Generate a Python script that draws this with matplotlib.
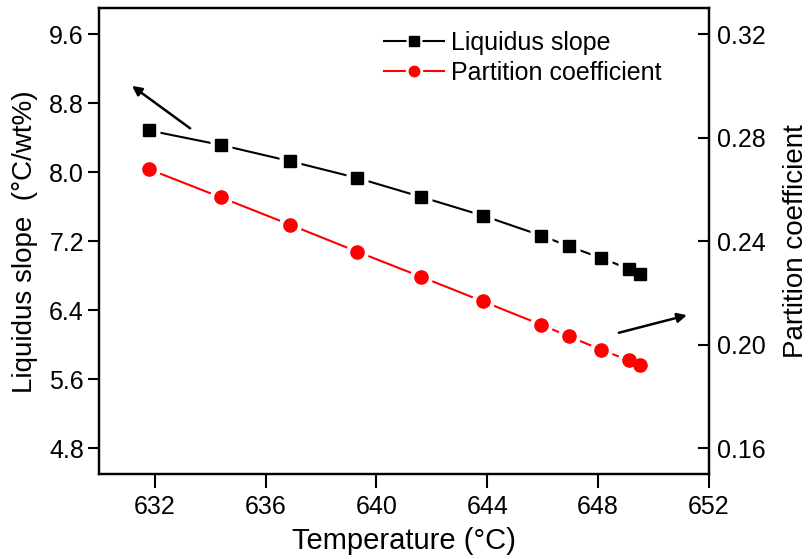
import matplotlib
matplotlib.use("Agg")
import matplotlib.pyplot as plt
from matplotlib.legend_handler import HandlerTuple

plt.rcParams['font.family'] = ['Liberation Sans', 'DejaVu Sans']

temperature = [631.8, 634.4, 636.9, 639.3, 641.6, 643.85, 645.95, 646.95, 648.1, 649.1, 649.5]
liquidus_slope = [8.484, 8.315, 8.127, 7.934, 7.715, 7.496, 7.265, 7.141, 7.005, 6.881, 6.824]
partition_coef = [0.2678, 0.2569, 0.2463, 0.2360, 0.2263, 0.2167, 0.2077, 0.2032, 0.1981, 0.1940, 0.1922]

x_ticks = [632, 636, 640, 644, 648, 652]
left_ticks = [4.8, 5.6, 6.4, 7.2, 8.0, 8.8, 9.6]
right_ticks = [0.16, 0.20, 0.24, 0.28, 0.32]

fig = plt.figure(figsize=(8.11, 5.59), dpi=100)
ax = fig.add_axes([0.1224, 0.152, 0.8742 - 0.1224, 0.985 - 0.152])
ax2 = ax.twinx()

ax.set_xlim(630, 652)
ax.set_ylim(4.5, 9.9)
ax2.set_ylim(4.5 / 30, 9.9 / 30)

def draw(a, x, y, color, marker, ms):
    ln, = a.plot(x, y, '-', color=color, lw=1.5, zorder=2)
    a.plot(x, y, ls='none', marker=marker, ms=ms + 7, mfc='white', mec='none', zorder=3)
    a.plot(x, y, ls='none', marker=marker, ms=ms, mfc=color, mec=color, zorder=4)
    return color, marker

h1 = draw(ax, temperature, liquidus_slope, 'black', 's', 9)
h2 = draw(ax2, temperature, partition_coef, 'red', 'o', 9.5)

ax.set_xticks(x_ticks)
ax.set_xticklabels([str(t) for t in x_ticks])
ax.set_yticks(left_ticks)
ax.set_yticklabels([f"{v:.1f}" for v in left_ticks])
ax2.set_yticks(right_ticks)
ax2.set_yticklabels([f"{v:.2f}" for v in right_ticks])

ax.tick_params(axis='x', direction='out', length=10, width=1.5, labelsize=18, pad=5)
ax.tick_params(axis='y', direction='out', length=8, width=1.5, labelsize=18, pad=3)
ax2.tick_params(axis='y', direction='in', length=8, width=1.5, labelsize=18, pad=6)
for a in (ax, ax2):
    for s in a.spines.values():
        s.set_linewidth(1.6)

ax.set_xlabel('Temperature (°C)', fontsize=21, labelpad=6)
ax.set_ylabel('Liquidus slope  (°C/wt%)', fontsize=20, labelpad=8)
ax2.set_ylabel('Partition coefficient', fontsize=20, labelpad=12)

# arrows
ax.annotate('', xy=(631.1, 9.02), xytext=(633.36, 8.49),
            arrowprops=dict(arrowstyle='-|>', color='black', lw=1.8, mutation_scale=14))
ax.annotate('', xy=(651.3, 6.35), xytext=(648.65, 6.13),
            arrowprops=dict(arrowstyle='-|>', color='black', lw=1.8, mutation_scale=14))

def legend_handle(h, ms):
    color, marker = h
    l = plt.Line2D([], [], color=color, lw=1.5)
    w = plt.Line2D([], [], ls='none', marker=marker, ms=ms + 5, mfc='white', mec='none')
    c = plt.Line2D([], [], ls='none', marker=marker, ms=ms, mfc=color, mec=color)
    return (l, w, c)

leg = ax2.legend([legend_handle(h1, 7), legend_handle(h2, 7.5)],
                 ['Liquidus slope', 'Partition coefficient'],
                 handler_map={tuple: HandlerTuple(ndivide=1)},
                 loc='upper left', bbox_to_anchor=(0.43, 1.0), frameon=False,
                 fontsize=18, handlelength=2.4, handletextpad=0.3, labelspacing=0.25,
                 numpoints=1)

fig.savefig('out.png', dpi=100)
